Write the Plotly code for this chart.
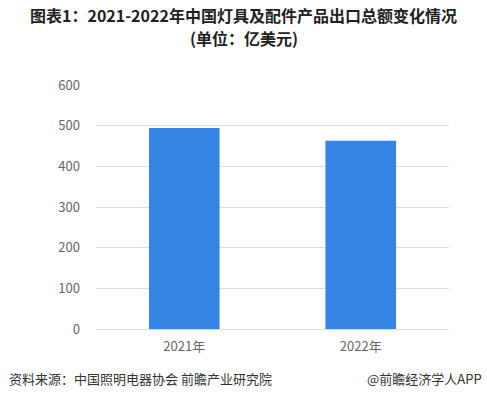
import plotly.graph_objects as go

categories = ["2021年", "2022年"]
values = [494, 463]
y_ticks = [0, 100, 200, 300, 400, 500, 600]

title_line1 = "图表1：2021-2022年中国灯具及配件产品出口总额变化情况"
title_line2 = "(单位：亿美元)"
source_text = "资料来源：中国照明电器协会 前瞻产业研究院"
credit_text = "@前瞻经济学人APP"

font_family = "Noto Sans CJK SC, Noto Sans, sans-serif"

W, H = 487, 398
plot_left, plot_right = 96, 449
plot_top, plot_bottom = 85, 329
plot_w = plot_right - plot_left
plot_h = plot_bottom - plot_top


def py(pix):
    return (plot_bottom - pix) / plot_h


def px(pix):
    return (pix - plot_left) / plot_w


fig = go.Figure()
fig.add_trace(go.Bar(
    x=categories,
    y=values,
    marker=dict(color="#3584e4", line=dict(width=0)),
    width=0.4,
    hoverinfo="x+y",
))

fig.update_layout(
    width=W,
    height=H,
    margin=dict(l=plot_left, r=W - plot_right, t=plot_top, b=H - plot_bottom),
    paper_bgcolor="white",
    plot_bgcolor="white",
    showlegend=False,
    font=dict(family=font_family, color="#666666", size=13),
    xaxis=dict(
        showgrid=False,
        showline=False,
        ticks="",
        ticklabelstandoff=8,
        tickfont=dict(size=13, color="#666666"),
    ),
    yaxis=dict(
        range=[0, 600],
        tickvals=y_ticks,
        showgrid=True,
        gridcolor="#dddddd",
        gridwidth=1,
        zeroline=True,
        zerolinecolor="#dddddd",
        zerolinewidth=1,
        showline=False,
        ticks="",
        ticklabelstandoff=15,
        tickfont=dict(size=13, color="#666666"),
    ),
    annotations=[
        dict(text="<b>" + title_line1 + "</b>",
             x=px(W / 2), y=py(14.5), xref="paper", yref="paper",
             showarrow=False, align="center",
             font=dict(size=16, color="#222222", family=font_family),
             xanchor="center", yanchor="middle"),
        dict(text="<b>" + title_line2 + "</b>",
             x=px(W / 2), y=py(38.5), xref="paper", yref="paper",
             showarrow=False, align="center",
             font=dict(size=16, color="#222222", family=font_family),
             xanchor="center", yanchor="middle"),
        dict(text=source_text, x=px(7), y=py(378), xref="paper", yref="paper",
             showarrow=False, font=dict(size=13, color="#333333", family=font_family),
             xanchor="left", yanchor="middle"),
        dict(text=credit_text, x=px(484), y=py(378), xref="paper", yref="paper",
             showarrow=False, font=dict(size=13, color="#333333", family=font_family),
             xanchor="right", yanchor="middle"),
    ],
)

fig.write_html(
    "out.html",
    config={"displayModeBar": False},
    post_script="document.body.style.margin='0';document.body.style.padding='0';",
)
